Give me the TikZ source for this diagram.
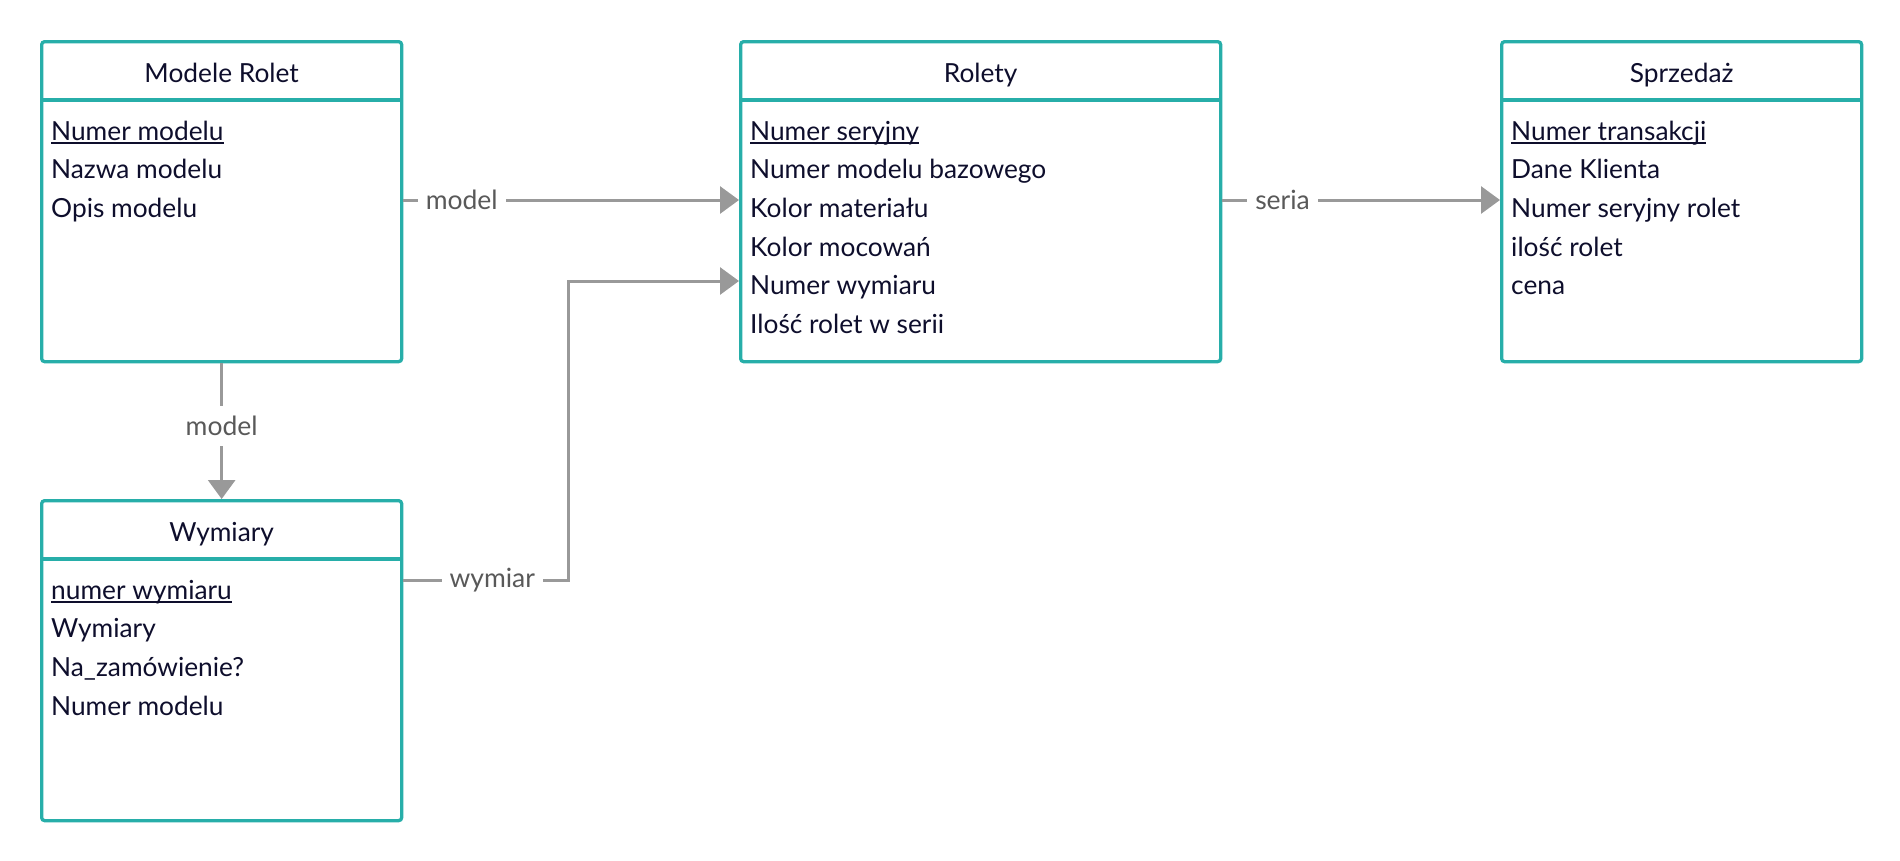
\documentclass[tikz,border=0pt]{standalone}
\usepackage{fontspec}
\setmainfont{Lato}
\usetikzlibrary{arrows.meta,calc}
\definecolor{teal1}{HTML}{27AEA9}
\definecolor{ink}{HTML}{0E0E2C}
\definecolor{conncol}{HTML}{999999}
\definecolor{lblc}{HTML}{595959}
\newcommand\ulk[1]{\setbox0\hbox{#1}\rlap{\rule[-4pt]{\wd0}{1.8pt}}\box0}
\begin{document}
\begin{tikzpicture}[x=1pt,y=-1pt,
  entity/.style={draw=teal1, line width=3.3pt, rounded corners=3pt, anchor=north west,
     minimum height=320pt, inner sep=0pt},
  divider/.style={draw=teal1, line width=3.3pt},
  ttl/.style={font=\fontsize{26.3}{31}\selectfont, text=ink, anchor=base, inner sep=0pt},
  fld/.style={font=\fontsize{26.3}{31}\selectfont, text=ink, anchor=base west, inner sep=0pt},
  link/.style={draw=conncol, line width=3pt, -{Triangle[length=19pt,width=27pt]}},
  lbl/.style={font=\fontsize{26.5}{31}\selectfont, text=lblc, fill=white, inner xsep=8pt, inner ysep=10pt}
]
\useasboundingbox (0,0) rectangle (1900,860);

% entities
\node[entity, minimum width=360pt] (mr) at (40,40) {};
\node[entity, minimum width=480pt] (rol) at (739,40) {};
\node[entity, minimum width=360pt] (spr) at (1500,40) {};
\node[entity, minimum width=360pt] (wym) at (40,499) {};

% headers
\foreach \n/\t in {mr/Modele Rolet, rol/Rolety, spr/Sprzedaż, wym/Wymiary}{
  \draw[divider] ($(\n.north west)+(0,60)$) -- ($(\n.north east)+(0,60)$);
  \node[ttl] (\n-t) at ($(\n.north)+(0,42)$) {\t};
}

% fields
\node[fld] (mr1) at ($(mr.north west)+(11,100)$) {\ulk{Numer modelu}};
\node[fld] (mr2) at ($(mr.north west)+(11,138.7)$) {Nazwa modelu};
\node[fld] (mr3) at ($(mr.north west)+(11,177.4)$) {Opis modelu};

\node[fld] (r1) at ($(rol.north west)+(11,100)$) {\ulk{Numer seryjny}};
\node[fld] (r2) at ($(rol.north west)+(11,138.7)$) {Numer modelu bazowego};
\node[fld] (r3) at ($(rol.north west)+(11,177.4)$) {Kolor materiału};
\node[fld] (r4) at ($(rol.north west)+(11,216.1)$) {Kolor mocowań};
\node[fld] (r5) at ($(rol.north west)+(11,254.8)$) {Numer wymiaru};
\node[fld] (r6) at ($(rol.north west)+(11,293.5)$) {Ilość rolet w serii};

\node[fld] (s1) at ($(spr.north west)+(11,100)$) {\ulk{Numer transakcji}};
\node[fld] (s2) at ($(spr.north west)+(11,138.7)$) {Dane Klienta};
\node[fld] (s3) at ($(spr.north west)+(11,177.4)$) {Numer seryjny rolet};
\node[fld] (s4) at ($(spr.north west)+(11,216.1)$) {ilość rolet};
\node[fld] (s5) at ($(spr.north west)+(11,254.8)$) {cena};

\node[fld] (w1f) at ($(wym.north west)+(11,100)$) {\ulk{numer wymiaru}};
\node[fld] (w2f) at ($(wym.north west)+(11,138.7)$) {Wymiary};
\node[fld] (w3f) at ($(wym.north west)+(11,177.4)$) {Na\_zamówienie?};
\node[fld] (w4f) at ($(wym.north west)+(11,216.1)$) {Numer modelu};

% connectors
\coordinate (cm) at ($(mr.north east)+(0,160)$);
\coordinate (cs) at ($(rol.north east)+(0,160)$);
\coordinate (cw) at ($(wym.north east)+(0,81)$);
\coordinate (cwe) at ($(rol.north west)+(0,241)$);
\coordinate (cbend) at (568,0);

\draw[link] (cm) -- (cm -| rol.west) node[lbl, pos=0.174] {model};
\draw[link] (cs) -- (cs -| spr.west) node[lbl, pos=0.217] {seria};
\draw[link] (mr.south) -- (wym.north) node[lbl, pos=0.46] {model};
\draw[link] (cw) -- (cw -| cbend) node[lbl, pos=0.54] {wymiar} |- (cwe -| rol.west);
\end{tikzpicture}
\end{document}
